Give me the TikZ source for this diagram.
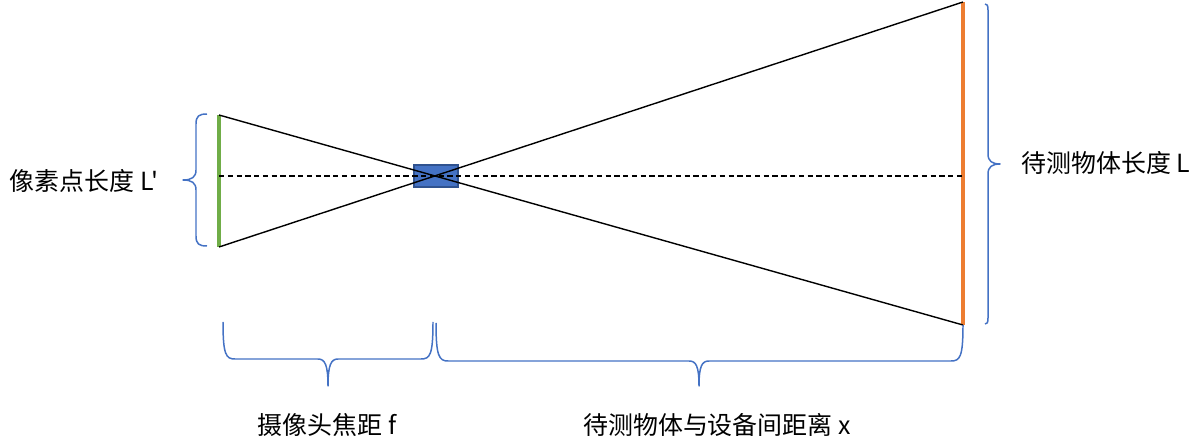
\documentclass[tikz,border=0pt]{standalone}
\usepackage{fontspec}
\newfontfamily\cjk{Noto Sans CJK SC}
\definecolor{pgreen}{HTML}{70AD47}
\definecolor{porange}{HTML}{ED7D31}
\definecolor{pblue}{HTML}{4472C4}
\definecolor{pbluedark}{HTML}{2F528F}
\begin{document}
\begin{tikzpicture}[x=0.02cm,y=-0.02cm,
  ray/.style={black,line width=0.8pt},
  brace/.style={pblue,line width=0.85pt,line join=round},
  lbl/.style={font=\cjk\fontsize{14.2}{16}\selectfont,inner sep=0pt}]
\useasboundingbox (0,0) rectangle (1201,442);
% key points
\coordinate (imgT) at (219,115);
\coordinate (imgB) at (219,247);
\coordinate (imgM) at (219,176);
\coordinate (objT) at (963,2);
\coordinate (objB) at (963,325);
\coordinate (objM) at (963,176);
% image and object segments
\draw[pgreen,line width=1.9pt] (imgT) -- (imgB);
\draw[porange,line width=1.9pt] (objT) -- (objB);
% camera
\node[draw=pbluedark,fill=pblue,line width=0.6pt,minimum width=44*0.02cm,minimum height=22*0.02cm,inner sep=0pt] (cam) at (436,176) {};
% axis
\draw[black,line width=0.8pt,dash pattern=on 3pt off 2pt] (imgM) -- (objM);
% rays
\draw[ray] (imgT) -- (objB);
\draw[ray] (imgB) -- (objT);
% left brace
\draw[brace] (207,114) .. controls (199,114) and (196,116) .. (196,124) -- (196,170)
  .. controls (196,177) and (192,180) .. (183,180)
  .. controls (192,180) and (196,183) .. (196,190) -- (196,236)
  .. controls (196,244) and (199,246) .. (207,246);
% right brace
\draw[brace] (985,4) .. controls (987,4) and (988,5) .. (988,10) -- (988,154)
  .. controls (988,161) and (992,164) .. (1000,164)
  .. controls (992,164) and (988,167) .. (988,174) -- (988,318)
  .. controls (988,323) and (987,324) .. (985,324);
% bottom brace 1
\draw[brace] (223,322) .. controls (223,355) and (226,359) .. (235,359) -- (318,359)
  .. controls (325,359) and (328,365) .. (328,386)
  .. controls (328,365) and (331,359) .. (338,359) -- (421,359)
  .. controls (430,359) and (433,355) .. (433,322);
% bottom brace 2
\draw[brace] (436,323) .. controls (436,356) and (439,361) .. (448,361) -- (689,361)
  .. controls (696,361) and (699,366) .. (699,386)
  .. controls (699,366) and (702,361) .. (709,361) -- (951,361)
  .. controls (960,361) and (963,357) .. (963,325);
% labels
\node[lbl] (lImg) at (84,181) {像素点长度 L'};
\node[lbl] (lObj) at (1106,163) {待测物体长度 L};
\node[lbl] (lF) at (327,425) {摄像头焦距 f};
\node[lbl] (lX) at (717,425) {待测物体与设备间距离 x};
\end{tikzpicture}
\end{document}
